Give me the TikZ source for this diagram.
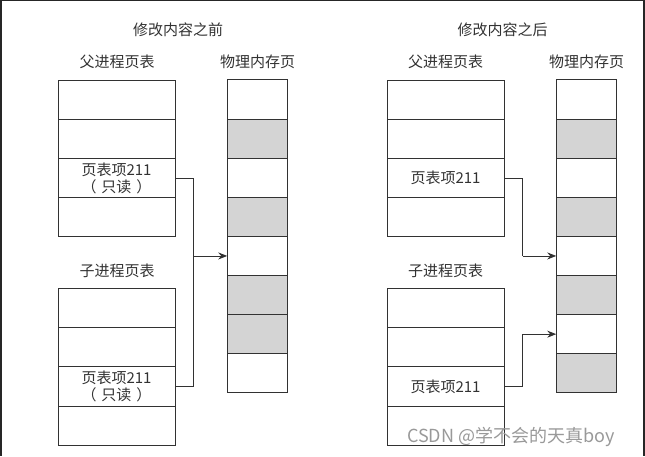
\documentclass[tikz,border=0pt]{standalone}
\usepackage{fontspec}
\setmainfont{Noto Sans CJK SC}
\usepackage{tikz}
\usetikzlibrary{arrows.meta}
\definecolor{pagegray}{RGB}{212,212,212}
\definecolor{linegray}{RGB}{50,50,50}
\tikzset{
  cell/.style={draw=linegray, line width=1pt, minimum width=117pt, minimum height=39.2pt,
    inner sep=0pt, align=center, text=linegray, font=\fontsize{15}{17}\selectfont},
  page/.style={draw=linegray, line width=1pt, minimum width=59.5pt, minimum height=39.2pt, inner sep=0pt},
  title/.style={text=linegray, inner sep=0pt, font=\fontsize{15}{17}\selectfont},
  link/.style={draw=linegray, line width=0.9pt},
  tip/.style={-{Stealth[length=9pt,width=7pt]}},
  watermark/.style={text=black!40, inner sep=0pt, anchor=west, font=\fontsize{18}{20}\selectfont}
}
\newcommand{\readonly}{（\hspace{5pt}只读\hspace{5pt}）}
\begin{document}
\begin{tikzpicture}[x=1pt, y=-1pt]
\useasboundingbox (0,0) rectangle (645,456);
% screenshot frame
\fill[black!85] (0,0) rectangle (2,456);
\fill[black!85] (0,0) rectangle (645,1);
\fill[black!85] (643,0) rectangle (645,456);

% before the write
\node[title] (tb) at (178,30) {修改内容之前};
\node[title] (tbp) at (117,62) {父进程页表};
\node[title] (tbm) at (257.5,62) {物理内存页};
\node[title] (tbc) at (117,271) {子进程页表};
\foreach \i in {1,2,4} {
  \node[cell] (fb\i) at (116.5,{80+39.2*(\i-.5)}) {};
  \node[cell] (cb\i) at (116.5,{288+39.4*(\i-.5)}) {};
}
\node[cell] (fb3) at (116.5,{80+39.2*2.5}) {页表项211\\\readonly};
\node[cell] (cb3) at (116.5,{288+39.4*2.5}) {页表项211\\\readonly};
\foreach \i/\f in {1/white,2/pagegray,3/white,4/pagegray,5/white,6/pagegray,7/pagegray,8/white}
  \node[page, fill=\f] (mb\i) at (257.5,{80+39.1*(\i-.5)}) {};
\path (fb3.east) ++(18,0) coordinate (jbx);
\coordinate (jb) at (jbx |- mb5.west);
\draw[link] (fb3.east) -| (jb);
\draw[link] (cb3.east) -| (jb);
\draw[link,tip] (jb) -- (mb5.west);

% after the write
\node[title] (ta) at (502.5,30) {修改内容之后};
\node[title] (tap) at (445.5,62) {父进程页表};
\node[title] (tam) at (586.5,62) {物理内存页};
\node[title] (tac) at (445.5,271) {子进程页表};
\foreach \i in {1,2,4} {
  \node[cell] (fa\i) at (445.5,{80+39.2*(\i-.5)}) {};
  \node[cell] (ca\i) at (445.5,{288+39.4*(\i-.5)}) {};
}
\node[cell] (fa3) at (445.5,{80+39.2*2.5}) {页表项211};
\node[cell] (ca3) at (445.5,{288+39.4*2.5}) {页表项211};
\foreach \i/\f in {1/white,2/pagegray,3/white,4/pagegray,5/white,6/pagegray,7/white,8/pagegray}
  \node[page, fill=\f] (ma\i) at (586.5,{80+39.1*(\i-.5)}) {};
\path (fa3.east) ++(18,0) coordinate (jax);
\coordinate (ja) at (jax |- ma5.west);
\coordinate (jc) at (jax |- ma7.west);
\draw[link] (fa3.east) -| (ja);
\draw[link,tip] (ja) -- (ma5.west);
\draw[link] (ca3.east) -| (jc);
\draw[link,tip] (jc) -- (ma7.west);

\node[watermark] (wm) at (407,437) {CSDN @学不会的天真boy};
\end{tikzpicture}
\end{document}
